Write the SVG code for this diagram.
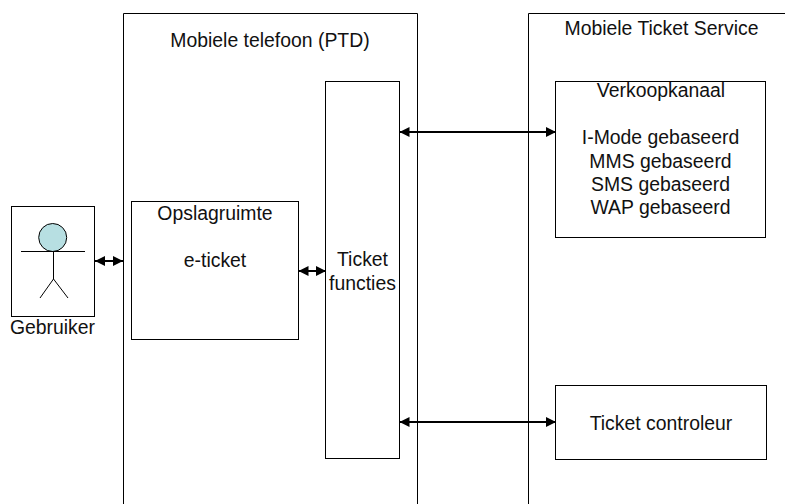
<svg xmlns="http://www.w3.org/2000/svg" width="785" height="504" viewBox="0 0 785 504">
<style>
.b{fill:#fff;stroke:#000;stroke-width:1}
.t{font-family:"Liberation Sans",Arial,sans-serif;font-size:19.400px;fill:#111;text-anchor:middle}
.c{stroke:#000;stroke-width:2;fill:none;marker-start:url(#a);marker-end:url(#a)}
.l{stroke:#000;stroke-width:1;fill:none}
</style>
<defs><marker id="a" viewBox="0 0 10 10" refX="10" refY="5" markerWidth="5" markerHeight="5" orient="auto-start-reverse"><path d="M0 0L10 5L0 10z" fill="#000"/></marker></defs>
<rect width="785" height="504" fill="#fff"/>
<g id="ptd"><path class="b" d="M123.500 504V13.500H417.500V504"/><text class="t" x="270" y="47">Mobiele telefoon (PTD)</text></g>
<g id="service"><path class="b" d="M528.500 504V13.500H785"/><text class="t" x="661.500" y="35">Mobiele Ticket Service</text></g>
<g id="gebruiker"><rect class="b" x="11.500" y="206.500" width="83" height="110"/>
<circle cx="52.700" cy="237.500" r="14" fill="#b7dfe2" stroke="#000"/>
<path class="l" d="M53.500 252V279M21 251.500H85M53.500 279L40 298M53.500 279L68 298"/>
<text class="t" x="52.500" y="334">Gebruiker</text></g>
<g id="opslag"><rect class="b" x="131.500" y="201.500" width="167" height="138"/><text class="t" x="215" y="220">Opslagruimte</text><text class="t" x="215" y="267">e-ticket</text></g>
<g id="functies"><rect class="b" x="325.500" y="81.500" width="74" height="377"/><text class="t" x="362.500" y="266">Ticket</text><text class="t" x="362.500" y="290">functies</text></g>
<g id="verkoop"><rect class="b" x="555.500" y="81.500" width="210" height="156"/><text class="t" x="661" y="97">Verkoopkanaal</text><text class="t" x="660.500" y="144">I-Mode gebaseerd</text><text class="t" x="660.500" y="167.500">MMS gebaseerd</text><text class="t" x="660.500" y="191">SMS gebaseerd</text><text class="t" x="660.500" y="214">WAP gebaseerd</text></g>
<g id="controleur"><rect class="b" x="555.500" y="385.500" width="211" height="74"/><text class="t" x="661" y="430">Ticket controleur</text></g>
<g id="connectors">
<path class="c" d="M95 261H123"/>
<path class="c" d="M298.500 271H326"/>
<path class="c" d="M399.500 132H556"/>
<path class="c" d="M399.500 422H556"/>
</g>
</svg>
